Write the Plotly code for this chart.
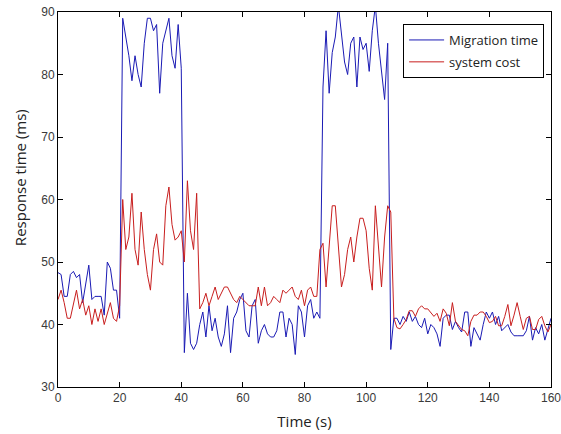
import plotly.graph_objects as go

# --- data (one sample per second, 0..160 s) ---
time_s = list(range(0, 161))

migration_time = [
    # 0-20 s
    48.3, 48, 44.5, 44.5, 48, 48.5, 47.5, 48, 43.5, 46.5, 49.5, 44, 44.5, 44.5, 44.5, 41.5, 50, 49, 45.5, 45.5, 41,
    # 21-40 s
    89, 86, 83, 79, 83, 80, 78, 85, 89, 89, 87, 88, 77, 85, 87, 89, 83, 81, 88, 81,
    # 41-84 s
    35.5, 45, 37, 36, 37, 40, 42, 38, 43, 39, 41, 38, 36.5, 38.5, 43, 35.5, 41, 42, 44, 45, 39, 38, 43, 44,
    37, 39, 40, 38.5, 38, 38, 39, 42, 42, 38, 41, 40, 35.2, 43, 42, 38, 43, 44, 41, 42,
    # 85-107 s
    41, 78, 87, 77, 83.5, 86, 91, 86, 82, 80, 85, 86, 78, 86, 84, 85, 80.5, 87, 91, 85, 80, 76, 85,
    # 108-160 s
    36, 41, 41, 40, 41.3, 40.5, 42, 40.5, 41.3, 40, 39.5, 41, 38.5, 40, 39.5, 38.5, 36.5, 41, 41.5, 41.5,
    39.2, 40.5, 39.5, 38.8, 42, 42, 36.5, 39.5, 38.5, 37.5, 40, 42, 41, 42, 40, 41.3, 39, 39.5, 40, 38.8,
    38.2, 38.2, 38.2, 38.2, 39, 41.3, 37.5, 39.5, 38.5, 40, 37.5, 39.5, 41,
]

system_cost = [
    # 0-20 s
    44, 45.5, 43.5, 41, 41, 43, 45.5, 42.5, 44, 41.5, 43, 40, 42.5, 40.5, 42.5, 40, 42, 43.5, 41, 40.5, 43,
    # 21-45 s
    60, 52, 54, 61, 52, 49.5, 58, 52, 48, 45.5, 52, 54.5, 50, 49.5, 59, 62, 56, 53.5, 54, 55, 50, 63, 55, 52, 61,
    # 46-84 s
    42.5, 43.5, 45, 43, 44.5, 46, 44, 45, 46, 46, 45, 44, 43.5, 44.5, 44, 43.5, 43, 43, 43, 46,
    43, 46, 43, 43.5, 44.5, 44, 43.5, 45.5, 45, 45.5, 46, 44.5, 44, 45.5, 43, 45.5, 46, 44.5, 44.5,
    # 85-108 s
    52, 53, 46, 53, 59, 59, 53, 46, 48, 52, 54, 50, 54, 57, 57, 55, 49, 45.5, 59, 52, 46, 54, 59, 58,
    # 109-160 s
    41, 39.5, 39.3, 40, 40.8, 42.2, 42.2, 41.3, 42.5, 43, 42.5, 42.5, 41.8, 41.3, 41.8, 40.5, 42.5, 41.8,
    39.8, 43.5, 40.5, 39.8, 39.2, 39, 38.2, 40.5, 41.5, 41.5, 42, 42, 41.3, 40.3, 40.5, 41.3, 39.8, 39.8,
    41.3, 43.2, 39.8, 41.5, 43.5, 41.3, 39.2, 41, 41.3, 39.2, 39.2, 40.8, 41.3, 39.8, 38.8, 40,
]

x_ticks = [0, 20, 40, 60, 80, 100, 120, 140, 160]
y_ticks = [30, 40, 50, 60, 70, 80, 90]

title_font = dict(family="Open Sans", size=15, color="#222222")

fig = go.Figure()
fig.add_trace(go.Scatter(x=time_s, y=migration_time, mode="lines", legendgroup="a",
                         line=dict(color="#1a1ab4", width=1), name="Migration time"))
fig.add_trace(go.Scatter(x=time_s, y=system_cost, mode="lines", legendgroup="b",
                         line=dict(color="#c81e1e", width=1), name="system cost"))

axis_style = dict(
    showline=True, linecolor="black", linewidth=1, mirror="ticks",
    ticks="inside", ticklen=5, tickcolor="black", showgrid=False, zeroline=False,
    tickfont=dict(family="Liberation Sans", size=12, color="#3a3a3a"),
    ticklabeloverflow="allow", automargin=False,
)

fig.update_xaxes(range=[0, 160], tickvals=x_ticks,
                 title=dict(text="Time (s)", font=title_font, standoff=12),
                 **axis_style)
fig.update_yaxes(range=[30, 90], tickvals=y_ticks, **axis_style)

# y title sits a little above the axis centre in the reference, so place it by hand
fig.add_annotation(text="Response time (ms)", textangle=-90, font=title_font,
                   xref="paper", yref="paper", x=0, y=0.557,
                   xanchor="center", yanchor="middle", xshift=-38, showarrow=False)

fig.update_layout(
    width=561, height=434,
    margin=dict(l=58, r=10, t=12, b=47, autoexpand=False),
    paper_bgcolor="white", plot_bgcolor="white",
    legend=dict(x=0.70, y=0.968, xanchor="left", yanchor="top",
                bordercolor="black", borderwidth=1, bgcolor="white",
                font=dict(family="Open Sans", size=13, color="#222222"),
                itemwidth=35, tracegroupgap=2),
)

# drop the default 8px body margin so the figure fills the window; no modebar
fig.write_html("out.html", config={"displayModeBar": False},
               post_script="document.body.style.margin = '0';")
